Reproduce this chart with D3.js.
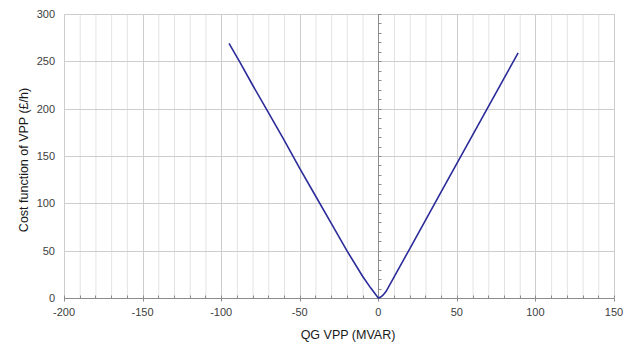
<!DOCTYPE html>
<html>
<head>
<meta charset="utf-8">
<script src="https://cdn.jsdelivr.net/npm/d3@7"></script>
<style>
  body { margin: 0; background: #fff; }
  svg text { font-family: "Liberation Sans", Arial, sans-serif; fill: #404040; }
</style>
</head>
<body>
<svg id="chart" width="634" height="344"></svg>
<script>
// cost curve
const qgLeft = [-95, -88, -80, -71, -60, -50, -40, -30, -20, -10, -5, 0];
const costLeft = [269, 249, 225, 199, 167, 137, 108, 79, 50, 23, 11, 0];
const qgRight = [0, 1.5, 3, 5, 10, 20, 40, 60, 80, 89];
const costRight = [0, 1, 3, 7, 22, 52, 112, 172, 232, 259];

const xTicks = [-200, -150, -100, -50, 0, 50, 100, 150];
const yTicks = [0, 50, 100, 150, 200, 250, 300];

const svg = d3.select('#chart');
const margin = {top: 14, right: 20, bottom: 46, left: 64};
const width = 634 - margin.left - margin.right;
const height = 344 - margin.top - margin.bottom;

const x = d3.scaleLinear().domain([-200, 150]).range([0, width]);
const y = d3.scaleLinear().domain([0, 300]).range([height, 0]);

const g = svg.append('g')
  .attr('transform', `translate(${margin.left},${margin.top})`);

// minor vertical grid every 10
const minorX = d3.range(-200, 151, 10);
g.append('g').selectAll('line')
  .data(minorX.filter(d => d % 50 !== 0))
  .enter().append('line')
  .attr('x1', d => x(d) + 0.5).attr('x2', d => x(d) + 0.5)
  .attr('y1', 0).attr('y2', height)
  .attr('stroke', '#e3e3e3');

// major grid
g.append('g').selectAll('line')
  .data(xTicks)
  .enter().append('line')
  .attr('x1', d => Math.round(x(d)) + 0.5).attr('x2', d => Math.round(x(d)) + 0.5)
  .attr('y1', 0).attr('y2', height)
  .attr('stroke', '#cdcdcd');

g.append('g').selectAll('line')
  .data(yTicks)
  .enter().append('line')
  .attr('x1', 0).attr('x2', width)
  .attr('y1', d => Math.round(y(d)) + 0.5).attr('y2', d => Math.round(y(d)) + 0.5)
  .attr('stroke', '#cdcdcd');

// x axis along cost = 0
const xAxis = g.append('g')
  .attr('transform', `translate(0,${Math.round(y(0)) + 0.5})`);
xAxis.append('line')
  .attr('x1', 0).attr('x2', width)
  .attr('stroke', '#8c8c8c');
xAxis.selectAll('.minor')
  .data(minorX)
  .enter().append('line')
  .attr('x1', d => Math.round(x(d)) + 0.5).attr('x2', d => Math.round(x(d)) + 0.5)
  .attr('y1', -3).attr('y2', 0)
  .attr('stroke', '#8c8c8c');
xAxis.selectAll('.major')
  .data(xTicks)
  .enter().append('line')
  .attr('x1', d => Math.round(x(d)) + 0.5).attr('x2', d => Math.round(x(d)) + 0.5)
  .attr('y1', 0).attr('y2', 3)
  .attr('stroke', '#8c8c8c');
xAxis.selectAll('text')
  .data(xTicks)
  .enter().append('text')
  .attr('x', d => x(d))
  .attr('y', 17)
  .attr('text-anchor', 'middle')
  .style('font-size', '11px')
  .text(d => d);

// y axis along QG = 0
const yAxis = g.append('g')
  .attr('transform', `translate(${Math.round(x(0)) + 0.5},0)`);
yAxis.append('line')
  .attr('y1', 0).attr('y2', height)
  .attr('stroke', '#8c8c8c');
yAxis.selectAll('.minor')
  .data(d3.range(0, 301, 10))
  .enter().append('line')
  .attr('y1', d => Math.round(y(d)) + 0.5).attr('y2', d => Math.round(y(d)) + 0.5)
  .attr('x1', 0).attr('x2', 3)
  .attr('stroke', '#8c8c8c');

// y tick labels on the left edge
g.append('g').selectAll('text')
  .data(yTicks)
  .enter().append('text')
  .attr('x', -9)
  .attr('y', d => y(d))
  .attr('dy', '0.35em')
  .attr('text-anchor', 'end')
  .style('font-size', '11px')
  .text(d => d);

// cost curve
const line = d3.line()
  .x(d => x(d[0]))
  .y(d => y(d[1]));

const pts = qgLeft.map((q, i) => [q, costLeft[i]])
  .concat(qgRight.slice(1).map((q, i) => [q, costRight[i + 1]]));

g.append('path')
  .datum(pts)
  .attr('d', line)
  .attr('fill', 'none')
  .attr('stroke', '#2b2b9a')
  .attr('stroke-width', 1.6);

// titles
svg.append('text')
  .attr('x', 348)
  .attr('y', 339)
  .attr('text-anchor', 'middle')
  .style('font-size', '12.5px')
  .style('fill', '#1a1a1a')
  .text('QG VPP (MVAR)');

svg.append('text')
  .attr('transform', 'translate(24,160) rotate(-90)')
  .attr('dy', '0.35em')
  .attr('text-anchor', 'middle')
  .style('font-size', '12.5px')
  .style('fill', '#1a1a1a')
  .text('Cost function of VPP (£/h)');
</script>
</body>
</html>
